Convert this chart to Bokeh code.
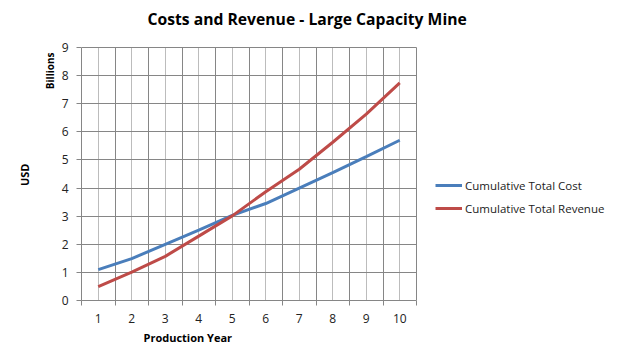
from bokeh.plotting import figure
from bokeh.models import (Range1d, FixedTicker, Legend, LegendItem, Title,
                          Label, ColumnDataSource)
from bokeh.embed import file_html
from bokeh.resources import INLINE

# ---- data ----
years = [1, 2, 3, 4, 5, 6, 7, 8, 9, 10]
cumulative_total_cost = [1.10, 1.49, 2.00, 2.50, 3.03, 3.45, 4.00, 4.55, 5.12, 5.70]
cumulative_total_revenue = [0.49, 1.01, 1.57, 2.29, 3.01, 3.87, 4.67, 5.63, 6.63, 7.74]
y_ticks = [0, 1, 2, 3, 4, 5, 6, 7, 8, 9]
title_text = "Costs and Revenue - Large Capacity Mine"
x_label = "Production Year"
y_label = "USD"
unit_label = "Billions"
series_names = ["Cumulative Total Cost", "Cumulative Total Revenue"]
series_colors = ["#4a7ebb", "#be4b48"]

# ---- layout ----
W, H = 611, 351
LEFT, BOTTOM = 81, 51
PLOT_W, PLOT_H = 335, 253         # size of the gridded plotting area
FRAME_W = W - LEFT                # frame extends right (legend) and up (title)
FRAME_H = H - BOTTOM
x0, x1 = years[0] - 0.5, years[-1] + 0.5
y0, y1 = y_ticks[0], y_ticks[-1]
x_end = x0 + (x1 - x0) * FRAME_W / PLOT_W
y_end = y0 + (y1 - y0) * FRAME_H / PLOT_H

DARK = "#868686"
LIGHT = "#bcbcbc"
FONT = "Open Sans"

src = ColumnDataSource(dict(x=years, cost=cumulative_total_cost,
                            rev=cumulative_total_revenue))

p = figure(width=W, height=H, output_backend="svg", toolbar_location=None,
           title=None,
           x_range=Range1d(x0, x_end), y_range=Range1d(y0, y_end),
           min_border_left=LEFT, min_border_right=0,
           min_border_top=0, min_border_bottom=BOTTOM)
p.outline_line_color = None

# x axis: labels at centers, tick marks at category boundaries (minor)
bounds = [y + 0.5 for y in [0] + years]
xt = FixedTicker(ticks=years, minor_ticks=bounds)
p.xaxis.ticker = xt
p.xaxis.bounds = (x0, x1)
p.xaxis.major_tick_out = 0
p.xaxis.major_tick_in = 0
p.xaxis.minor_tick_out = 5
p.xaxis.minor_tick_in = 0
p.xaxis.major_label_standoff = 8

p.yaxis.ticker = FixedTicker(ticks=y_ticks, minor_ticks=[])
p.yaxis.bounds = (y0, y1)
p.yaxis.major_tick_out = 5
p.yaxis.major_tick_in = 0
p.yaxis.minor_tick_out = 0
p.yaxis.minor_tick_in = 0
p.yaxis.major_label_standoff = 8

for ax in (p.xaxis, p.yaxis):
    ax.axis_line_color = DARK
    ax.major_tick_line_color = DARK
    ax.minor_tick_line_color = DARK
    ax.major_label_text_font = FONT
    ax.major_label_text_font_size = "12px"
    ax.major_label_text_color = "#222222"

lbl = dict(text_font=FONT, text_font_style="bold", text_color="#000000")
p.add_layout(Title(text=unit_label, align="right", offset=52, standoff=4,
                   text_font_size="10px", **lbl), "left")
p.add_layout(Title(text=y_label, align="right", offset=163, standoff=13,
                   text_font_size="11px", **lbl), "left")
p.add_layout(Title(text=x_label, align="left", offset=62, standoff=5,
                   text_font_size="11px", **lbl), "below")

# chart title (inside the extended frame, above the gridded area)
p.add_layout(Label(x=66, y=282, x_units="screen", y_units="screen",
                   text=title_text, text_align="left", text_baseline="middle",
                   text_font_size="15.7px", **lbl))

p.xgrid.ticker = xt
p.xgrid.bounds = (x0 - 0.1, x1 + 0.1)
p.xgrid.cross_bounds = (y0, y1)
p.xgrid.grid_line_color = LIGHT
p.xgrid.minor_grid_line_color = DARK
p.ygrid.ticker = FixedTicker(ticks=y_ticks)
p.ygrid.bounds = (y0 - 0.1, y1 + 0.1)
p.ygrid.cross_bounds = (x0, x1)
p.ygrid.grid_line_color = DARK

r1 = p.line("x", "cost", source=src, line_color=series_colors[0], line_width=3)
r2 = p.line("x", "rev", source=src, line_color=series_colors[1], line_width=3)

legend = Legend(items=[LegendItem(label=series_names[0], renderers=[r1]),
                       LegendItem(label=series_names[1], renderers=[r2])],
                location=(354, 82), padding=0, margin=0, spacing=3,
                glyph_width=27, glyph_height=20, label_height=20,
                label_standoff=3, border_line_alpha=0,
                background_fill_alpha=0,
                label_text_font=FONT, label_text_font_size="11.5px",
                label_text_color="#222222")
p.add_layout(legend)

open("out.html", "w").write(file_html(p, INLINE))
